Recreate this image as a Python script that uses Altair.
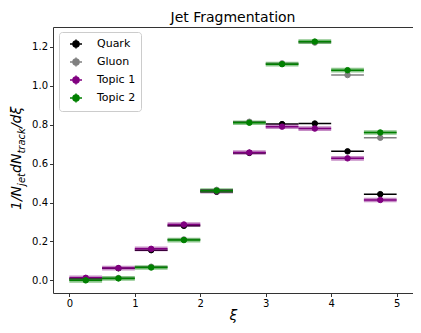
import altair as alt
import pandas as pd

# bin centres and edges (xi)
xi = [0.25, 0.75, 1.25, 1.75, 2.25, 2.75, 3.25, 3.75, 4.25, 4.75]
xi_lo = [0.0, 0.5, 1.0, 1.5, 2.0, 2.5, 3.0, 3.5, 4.0, 4.5]
xi_hi = [0.5, 1.0, 1.5, 2.0, 2.5, 3.0, 3.5, 4.0, 4.5, 5.0]

quark = [0.008, 0.062, 0.155, 0.280, 0.455, 0.655, 0.803, 0.806, 0.663, 0.443]
gluon = [0.003, 0.012, 0.070, 0.210, 0.465, 0.815, 1.115, 1.222, 1.055, 0.733]
topic1 = [0.013, 0.063, 0.162, 0.287, 0.458, 0.657, 0.790, 0.780, 0.627, 0.413]
topic2 = [0.000, 0.010, 0.066, 0.207, 0.461, 0.810, 1.111, 1.227, 1.080, 0.760]
topic1_err = [0.012, 0.012, 0.012, 0.012, 0.012, 0.012, 0.012, 0.012, 0.012, 0.012]
topic2_err = [0.012, 0.012, 0.012, 0.012, 0.012, 0.012, 0.012, 0.012, 0.012, 0.012]

series_names = ["Quark", "Gluon", "Topic 1", "Topic 2"]
series_colors = ["#000000", "#808080", "#800080", "#008000"]
series_vals = [quark, gluon, topic1, topic2]
series_err = [None, None, topic1_err, topic2_err]

rows = []
for name, vals, errs in zip(series_names, series_vals, series_err):
    for i in range(len(xi)):
        e = errs[i] if errs is not None else 0.0
        rows.append({"series": name, "xi": xi[i], "lo": xi_lo[i], "hi": xi_hi[i],
                     "y": vals[i], "ylo": vals[i] - e, "yhi": vals[i] + e})
df = pd.DataFrame(rows)

xscale = alt.Scale(domain=[-0.25, 5.25], nice=False, zero=False)
yscale = alt.Scale(domain=[-0.065, 1.302], nice=False, zero=False)

xaxis = alt.Axis(values=[0, 1, 2, 3, 4, 5], format="d", title="ξ", titleFontStyle="italic",
                 titleFontSize=14, titleFontWeight="normal", titlePadding=0, grid=False,
                 domain=False, tickSize=3.5, labelPadding=2)
yaxis = alt.Axis(values=[0.0, 0.2, 0.4, 0.6, 0.8, 1.0, 1.2], format=".1f", title=None,
                 grid=False, domain=False, tickSize=3.5, labelPadding=2)

base = alt.Chart(df)
layers = []
for name, color, errs in zip(series_names, series_colors, series_err):
    sub = base.transform_filter(alt.datum.series == name)
    if errs is not None:
        layers.append(sub.mark_rect(opacity=0.45, color=color).encode(
            x=alt.X("lo:Q", scale=xscale, axis=xaxis), x2="hi:Q",
            y=alt.Y("ylo:Q", scale=yscale, axis=yaxis), y2="yhi:Q"))
    layers.append(sub.mark_rule(strokeWidth=1.5, color=color).encode(
        x=alt.X("lo:Q", scale=xscale, axis=xaxis), x2="hi:Q",
        y=alt.Y("y:Q", scale=yscale, axis=yaxis)))
    layers.append(sub.mark_point(filled=True, size=30, strokeWidth=1, opacity=1).encode(
        x=alt.X("xi:Q", scale=xscale, axis=xaxis),
        y=alt.Y("y:Q", scale=yscale, axis=yaxis),
        fill=alt.Fill("series:N", scale=alt.Scale(domain=series_names, range=series_colors),
                      legend=alt.Legend(title=None)),
        stroke=alt.Stroke("series:N", scale=alt.Scale(domain=series_names, range=series_colors),
                          legend=alt.Legend(title=None))))

# y-axis title with subscripts, built from text pieces
ytitle_pieces = [("1/N", 14, -32.0, 183.0),
                 ("jet", 10, -28.5, 158.9),
                 ("dN", 14, -32.0, 146.0),
                 ("track", 10, -28.5, 126.6),
                 ("/dξ", 14, -32.0, 101.1)]
for txt, fs, px, py in ytitle_pieces:
    layers.append(alt.Chart(pd.DataFrame({"t": [txt]})).mark_text(
        angle=270, align="left", baseline="alphabetic", fontSize=fs,
        fontStyle="italic", font="DejaVu Sans", color="black").encode(
        text="t:N", x=alt.value(px), y=alt.value(py)))

chart = alt.layer(*layers).properties(
    width=360, height=266,
    title=alt.TitleParams("Jet Fragmentation", fontSize=14, fontWeight="normal",
                          font="DejaVu Sans", anchor="middle", offset=2, color="black"),
    autosize=alt.AutoSizeParams(type="none"),
    padding={"left": 45, "top": 19, "right": 0, "bottom": 32},
).configure_view(stroke="#333333", strokeWidth=1).configure_axis(
    labelFont="DejaVu Sans", labelFontSize=10, labelColor="black", tickColor="#333333",
    titleFont="DejaVu Sans", titleColor="black", tickWidth=1
).configure_legend(
    orient="none", legendX=6, legendY=5, fillColor="white", strokeColor="#cccccc",
    cornerRadius=3, padding=5, symbolOffset=5, labelOffset=14, rowPadding=2,
    labelFont="DejaVu Sans", labelFontSize=11, labelColor="black",
    symbolSize=144, symbolStrokeWidth=1.5,
    symbolType="M-1,0L1,0M0,-0.75L0,0.75M0.5,0A0.5,0.5,0,1,1,-0.5,0A0.5,0.5,0,1,1,0.5,0Z"
)

chart.save("out.html", embed_options={"renderer": "svg", "actions": False})
